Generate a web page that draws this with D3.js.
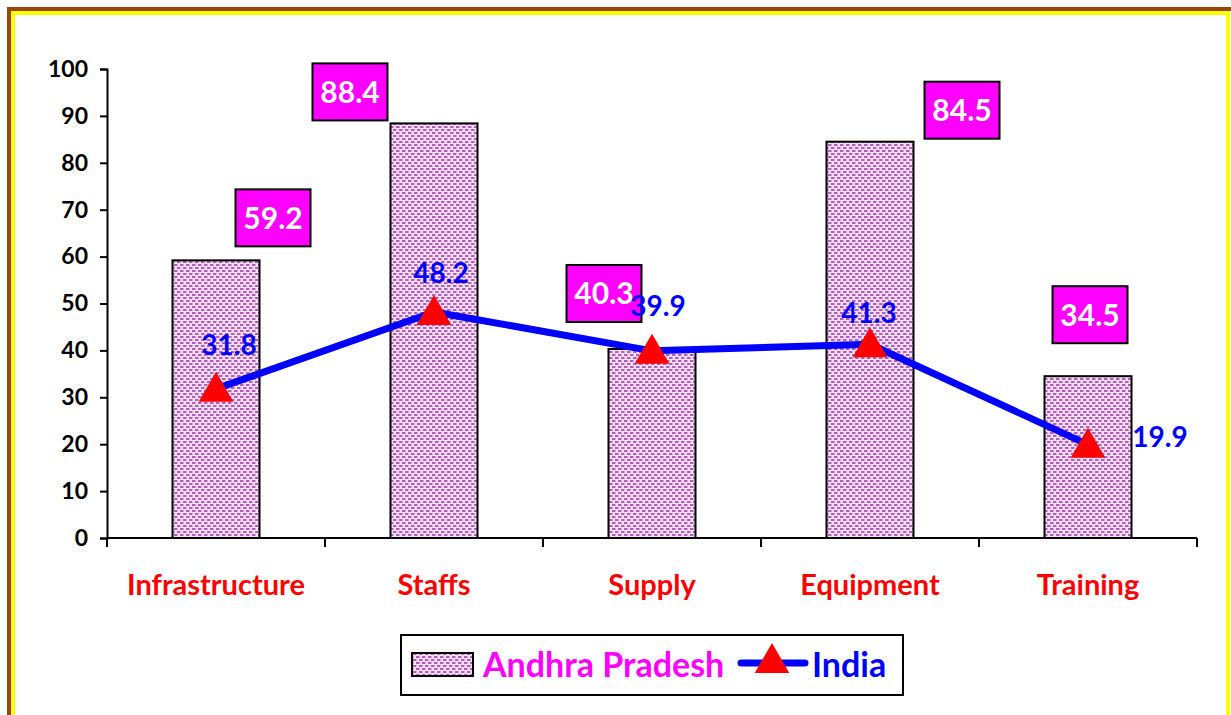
<!DOCTYPE html>
<html>
<head>
<meta charset="utf-8">
<title>Andhra Pradesh vs India</title>
<script src="https://cdnjs.cloudflare.com/ajax/libs/d3/7.8.5/d3.min.js"></script>
<style>
    body { margin: 0; background: #fff; }
    text { font-family: Lato, "Open Sans", sans-serif; font-weight: bold; }
</style>
</head>
<body>
<div id="chart"></div>
<script>
    var categories = ["Infrastructure", "Staffs", "Supply", "Equipment", "Training"];
    var apValues = [59.2, 88.4, 40.3, 84.5, 34.5];
    var indiaValues = [31.8, 48.2, 39.9, 41.3, 19.9];
    var yTicks = [0, 10, 20, 30, 40, 50, 60, 70, 80, 90, 100];

    // where the magenta value boxes sit, relative to bar centre / bar top
    var apLabelOffset = [[57, -14], [-84, -3], [-48, -27], [92, -3], [2, -33]];
    // where the blue India labels sit, relative to the point
    var indiaLabelOffset = [[13, -44], [7, -39], [6, -45], [-1, -31], [72, -8]];

    var width = 1231, height = 715;
    var margin = {left: 107, right: 34, top: 69, bottom: 177};

    var svg = d3.select("#chart").append("svg")
        .attr("width", width)
        .attr("height", height);

    // dotted fill for the bars
    var defs = svg.append("defs");
    var pat = defs.append("pattern")
        .attr("id", "dots")
        .attr("patternUnits", "userSpaceOnUse")
        .attr("width", 6)
        .attr("height", 6);
    pat.append("rect").attr("width", 6).attr("height", 6).attr("fill", "#f7def7");
    pat.append("rect").attr("x", 0).attr("y", 0).attr("width", 3.5).attr("height", 2).attr("fill", "#b060b8");
    pat.append("rect").attr("x", 3).attr("y", 3).attr("width", 3.5).attr("height", 2).attr("fill", "#b060b8");
    pat.append("rect").attr("x", -3).attr("y", 3).attr("width", 3.5).attr("height", 2).attr("fill", "#b060b8");

    // frame round the picture
    svg.append("rect")
        .attr("x", 9).attr("y", 9)
        .attr("width", width).attr("height", height)
        .attr("fill", "none").attr("stroke", "#974806").attr("stroke-width", 4);
    svg.append("rect")
        .attr("x", 13).attr("y", 13)
        .attr("width", width - 16).attr("height", height)
        .attr("fill", "none").attr("stroke", "#ffff00").attr("stroke-width", 4);

    var x = d3.scaleBand()
        .domain(categories)
        .range([margin.left, width - margin.right]);

    var y = d3.scaleLinear()
        .domain([0, 100])
        .range([height - margin.bottom, margin.top]);

    var barW = 87;

    // bars
    svg.selectAll("rect.bar")
        .data(apValues)
        .enter().append("rect")
        .attr("class", "bar")
        .attr("x", function(d, i) { return x(categories[i]) + x.bandwidth() / 2 - barW / 2; })
        .attr("y", function(d) { return y(d); })
        .attr("width", barW)
        .attr("height", function(d) { return y(0) - y(d); })
        .attr("fill", "url(#dots)")
        .attr("stroke", "#000")
        .attr("stroke-width", 2);

    // y axis
    var yAxis = svg.append("g")
        .attr("transform", "translate(" + margin.left + ",0)")
        .call(d3.axisLeft(y).tickValues(yTicks).tickSize(7).tickPadding(12));
    yAxis.selectAll("path, line").attr("stroke", "#000").attr("stroke-width", 2);
    yAxis.selectAll("text")
        .attr("font-size", 23)
        .attr("font-family", "Lato, sans-serif")
        .attr("font-weight", "bold")
        .attr("fill", "#000");

    // x axis line + boundary ticks
    svg.append("line")
        .attr("x1", margin.left).attr("x2", width - margin.right)
        .attr("y1", y(0)).attr("y2", y(0))
        .attr("stroke", "#000").attr("stroke-width", 2);
    var bounds = categories.map(function(c) { return x(c); }).concat([width - margin.right]);
    svg.selectAll("line.xtick")
        .data(bounds)
        .enter().append("line")
        .attr("class", "xtick")
        .attr("x1", function(d) { return d; }).attr("x2", function(d) { return d; })
        .attr("y1", y(0)).attr("y2", y(0) + 9)
        .attr("stroke", "#000").attr("stroke-width", 2);

    svg.selectAll("text.cat")
        .data(categories)
        .enter().append("text")
        .attr("class", "cat")
        .attr("x", function(d) { return x(d) + x.bandwidth() / 2; })
        .attr("y", 595)
        .attr("text-anchor", "middle")
        .attr("font-size", 29)
        .attr("fill", "#ff0000")
        .text(function(d) { return d; });

    // India line
    var cx = function(i) { return x(categories[i]) + x.bandwidth() / 2; };
    var line = d3.line()
        .x(function(d, i) { return cx(i); })
        .y(function(d) { return y(d); });

    svg.append("path")
        .datum(indiaValues)
        .attr("d", line)
        .attr("fill", "none")
        .attr("stroke", "#0000ff")
        .attr("stroke-width", 7)
        .attr("stroke-linejoin", "round");

    var tri = d3.symbol().type(d3.symbolTriangle).size(520);
    svg.selectAll("path.tri")
        .data(indiaValues)
        .enter().append("path")
        .attr("class", "tri")
        .attr("d", tri)
        .attr("transform", function(d, i) { return "translate(" + cx(i) + "," + (y(d) + 3) + ")"; })
        .attr("fill", "#ff0000");

    // magenta value boxes for Andhra Pradesh
    var boxW = 75, boxH = 57;
    var apLab = svg.selectAll("g.aplab")
        .data(apValues)
        .enter().append("g")
        .attr("class", "aplab")
        .attr("transform", function(d, i) {
            var bx = cx(i) + apLabelOffset[i][0];
            var by = y(d) + apLabelOffset[i][1] - boxH / 2;
            return "translate(" + bx + "," + by + ")";
        });
    apLab.append("rect")
        .attr("x", -boxW / 2).attr("y", -boxH / 2)
        .attr("width", boxW).attr("height", boxH)
        .attr("fill", "#ff00ff")
        .attr("stroke", "#000")
        .attr("stroke-width", 2);
    apLab.append("text")
        .attr("text-anchor", "middle")
        .attr("dy", "0.36em")
        .attr("font-size", 30)
        .attr("fill", "#fff")
        .text(function(d) { return d.toFixed(1); });

    // India value labels
    svg.selectAll("text.inlab")
        .data(indiaValues)
        .enter().append("text")
        .attr("class", "inlab")
        .attr("x", function(d, i) { return cx(i) + indiaLabelOffset[i][0]; })
        .attr("y", function(d, i) { return y(d) + indiaLabelOffset[i][1]; })
        .attr("dy", "0.36em")
        .attr("text-anchor", "middle")
        .attr("font-size", 28)
        .attr("fill", "#0000ff")
        .text(function(d) { return d.toFixed(1); });

    // legend
    var lg = svg.append("g").attr("transform", "translate(401,635)");
    lg.append("rect")
        .attr("width", 502).attr("height", 60)
        .attr("fill", "#fff").attr("stroke", "#000").attr("stroke-width", 2);
    lg.append("rect")
        .attr("x", 11).attr("y", 18).attr("width", 61).attr("height", 23)
        .attr("fill", "url(#dots)").attr("stroke", "#000").attr("stroke-width", 2);
    lg.append("text")
        .attr("x", 82).attr("y", 30).attr("dy", "0.36em")
        .attr("font-size", 34).attr("fill", "#ff00ff")
        .text("Andhra Pradesh");
    lg.append("line")
        .attr("x1", 340).attr("x2", 404).attr("y1", 28).attr("y2", 28)
        .attr("stroke", "#0000ff").attr("stroke-width", 7).attr("stroke-linecap", "round");
    lg.append("path")
        .attr("d", tri)
        .attr("transform", "translate(371,28)")
        .attr("fill", "#ff0000");
    lg.append("text")
        .attr("x", 411).attr("y", 30).attr("dy", "0.36em")
        .attr("font-size", 34).attr("fill", "#0000ff")
        .text("India");
</script>
</body>
</html>
